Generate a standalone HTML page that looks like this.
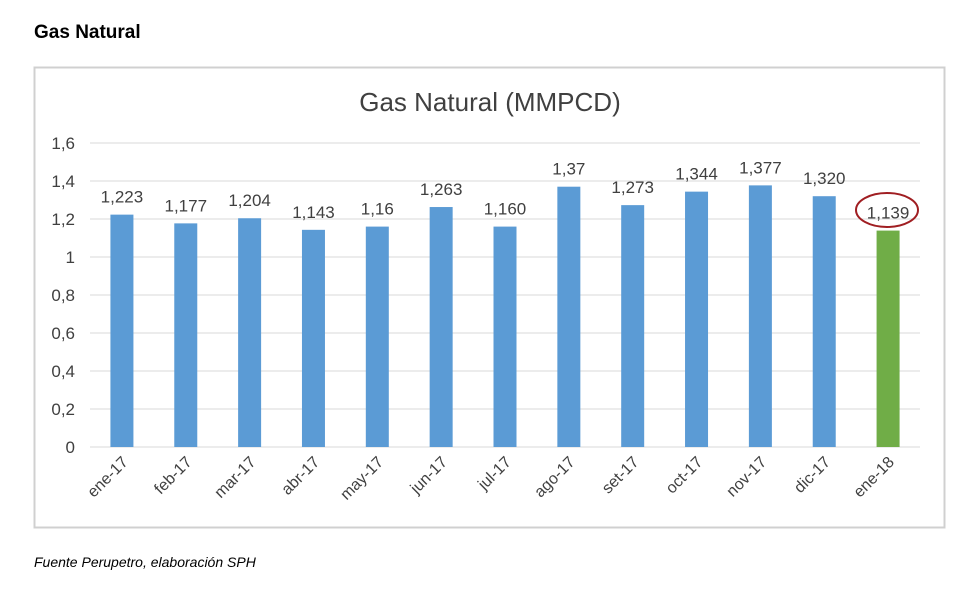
<!DOCTYPE html>
<html><head><meta charset="utf-8"><style>
body{margin:0;background:#fff;width:980px;height:593px;overflow:hidden;font-family:"Liberation Sans",sans-serif}
</style></head><body>
<svg width="980" height="593">
<text x="34" y="38" font-size="19" font-weight="bold" fill="#000">Gas Natural</text>
<rect x="34.5" y="67.5" width="910" height="460" fill="#fff" stroke="#d0d0d0" stroke-width="2"/>
<text x="490" y="111" font-size="26" fill="#404040" text-anchor="middle">Gas Natural (MMPCD)</text>
<g id="grid"></g><g id="bars"></g>
<ellipse cx="887" cy="210" rx="31" ry="17" fill="none" stroke="#a01e22" stroke-width="2"/>
<text x="34" y="567" font-size="14" font-style="italic" fill="#000">Fuente Perupetro, elaboración SPH</text>
</svg>
<script>
const categories=["ene-17","feb-17","mar-17","abr-17","may-17","jun-17","jul-17","ago-17","set-17","oct-17","nov-17","dic-17","ene-18"];
const values=[1.223,1.177,1.204,1.143,1.16,1.263,1.160,1.37,1.273,1.344,1.377,1.320,1.139];
const valueLabels=["1,223","1,177","1,204","1,143","1,16","1,263","1,160","1,37","1,273","1,344","1,377","1,320","1,139"];
const ticks=[0,0.2,0.4,0.6,0.8,1,1.2,1.4,1.6];
const tickLabels=["0","0,2","0,4","0,6","0,8","1","1,2","1,4","1,6"];
const NS="http://www.w3.org/2000/svg";
const x0=90,x1=920,y0=447,y1=143,yMax=1.6;
const y=v=>y0-(v/yMax)*(y0-y1);
const band=(x1-x0)/categories.length;
const xc=i=>x0+band*(i+0.5);
function mk(t,a,p){const e=document.createElementNS(NS,t);for(const k in a)e.setAttribute(k,a[k]);p.appendChild(e);return e;}
const g=document.getElementById('grid'),b=document.getElementById('bars');
ticks.forEach((t,i)=>{
 const l=mk('line',{x1:x0,x2:x1,y1:y(t),y2:y(t),stroke:'#d9d9d9','stroke-width':1},g);
 
 
 const tx=mk('text',{x:75,y:y(t)+6,'font-size':17,fill:'#404040','text-anchor':'end'},g);
 tx.textContent=tickLabels[i];
 
 
});
categories.forEach((c,i)=>{
 const r=mk('rect',{x:xc(i)-11.5,y:y(values[i]),width:23,height:y0-y(values[i]),fill:i==12?'#70ad47':'#5b9bd5'},b);
 
 
 const t=mk('text',{x:xc(i),y:y(values[i])-12,'font-size':17,fill:'#404040','text-anchor':'middle'},b);
 t.textContent=valueLabels[i];
 
 
 const xl=mk('text',{x:xc(i)+7,y:463,'font-size':16,fill:'#404040','text-anchor':'end',transform:`rotate(-45 ${xc(i)+7} 463)`},b);
 xl.textContent=c;
 
 
});
</script>
</body></html>
